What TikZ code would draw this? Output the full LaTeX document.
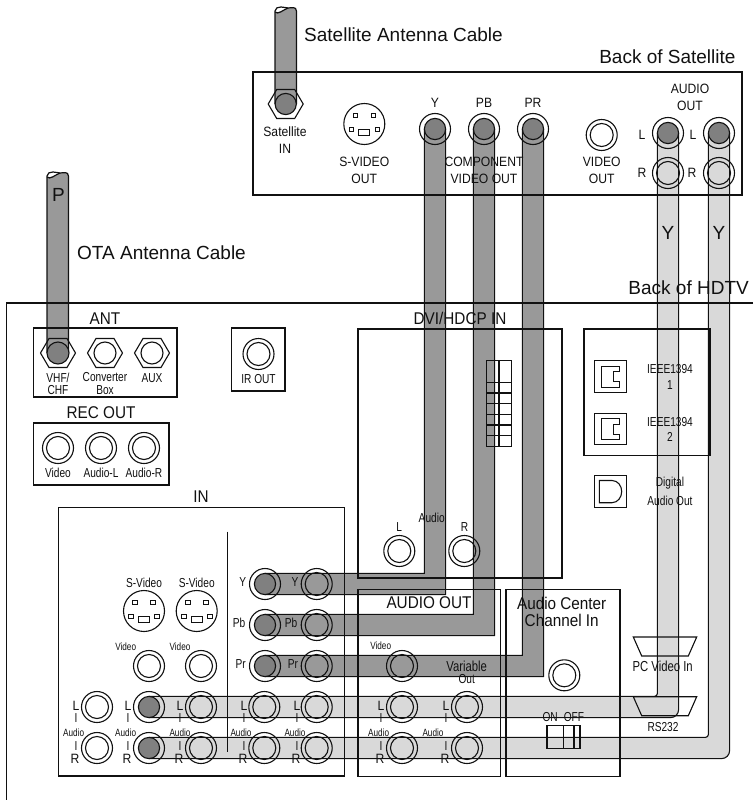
\documentclass[tikz,border=0pt]{standalone}
\usepackage{fontspec}
\setmainfont{Liberation Sans}
\newfontfamily\mdf[FakeStretch=0.9]{Liberation Sans}
\newfontfamily\nrw[FakeStretch=0.78]{Liberation Sans}
\usetikzlibrary{calc}
\newcount\lblcount
\newcommand\lbl[3]{\global\advance\lblcount by 1 \node[#1] (t\the\lblcount) at (#2) {#3};}
\definecolor{darkc}{HTML}{999999}
\definecolor{lightc}{HTML}{D9D9D9}
\definecolor{discc}{HTML}{808080}
\definecolor{inkc}{HTML}{111111}
\tikzset{
  ln/.style={draw=inkc,line width=1.1pt},
  big/.style={inner sep=0pt,text=inkc,font=\fontsize{19}{19}\selectfont},
  mid/.style={inner sep=0pt,text=inkc,font=\mdf\fontsize{17}{17}\selectfont},
  sm/.style={inner sep=0pt,text=inkc,font=\mdf\fontsize{13.5}{13.5}\selectfont},
  smn/.style={inner sep=0pt,text=inkc,font=\nrw\fontsize{13}{13}\selectfont},
  smw/.style={inner sep=0pt,text=inkc,font=\nrw\fontsize{14.5}{14.5}\selectfont},
  tiny/.style={inner sep=0pt,text=inkc,font=\nrw\fontsize{10.5}{10.5}\selectfont},
}
% ring jack: named centre
\newcommand\jack[2]{\coordinate (#1) at (#2);
  \draw[ln] (#1) circle[radius=15.5pt]; \draw[ln] (#1) circle[radius=11.5pt];}
\newcommand\disc[1]{\draw[ln,fill=discc] (#1) circle[radius=10.6pt];
  \draw[ln] (#1) circle[radius=15.5pt];}
% hex connector
\newcommand\hexj[2]{\coordinate (#1) at (#2);
  \draw[ln] ($(#1)+(-17.5,0)$) -- ($(#1)+(-9,-14.5)$) -- ($(#1)+(9,-14.5)$) -- ($(#1)+(17.5,0)$) -- ($(#1)+(9,14.5)$) -- ($(#1)+(-9,14.5)$) -- cycle;}
% s-video connector
\newcommand\svid[2]{\coordinate (#1) at (#2);
  \draw[ln] (#1) circle[radius=20.5pt];
  \foreach \dx/\dy in {-9/-9,9/-9,-13/5,13/5}
    \draw[ln,line width=.8pt] ($(#1)+(\dx-2.3,\dy-1.9)$) rectangle ($(#1)+(\dx+2.3,\dy+1.9)$);
  \draw[ln,line width=.8pt] ($(#1)+(-5.5,5.8)$) rectangle ($(#1)+(5.5,11)$);}
% cable: from top jack A down, then left to jack B
\newcommand\cable[5]{%
  \fill[#1] ([xshift=-10.6pt]#2) [rounded corners=#4] |- ([yshift=10.6pt]#3)
     [sharp corners] -- ([yshift=-10.6pt]#3) [rounded corners=#5] -| ([xshift=10.6pt]#2) [sharp corners] -- cycle;
  \draw[ln,rounded corners=#4] ([xshift=-10.6pt]#2) |- ([yshift=10.6pt]#3);
  \draw[ln,rounded corners=#5] ([xshift=10.6pt]#2) |- ([yshift=-10.6pt]#3);}
% straight cut cable with wavy top
\newcommand\riser[3]{% left x, top y, target
  \fill[darkc] (#1,#2+5) .. controls (#1+3,#2+8) and (#1+8,#2+3) .. (#1+13,#2+1) .. controls (#1+16,#2+1) and (#1+21.4,#2-1) .. (#1+21.4,#2+4)
     -- (#1+21.4,#3) -- (#1,#3) -- cycle;
  \draw[ln,line width=1.2pt] (#1,#3) -- (#1,#2+4) .. controls (#1,#2+1) and (#1+3,#2) .. (#1+6,#2) .. controls (#1+9,#2) and (#1+11,#2+1) .. (#1+13,#2+1) .. controls (#1+16,#2+1) and (#1+21.4,#2-1) .. (#1+21.4,#2+4) -- (#1+21.4,#3);
  \draw[ln,line width=1.2pt] (#1,#2+5) .. controls (#1+3,#2+8) and (#1+8,#2+3) .. (#1+13,#2+1);}
\begin{document}
\begin{tikzpicture}[x=1pt,y=-1pt]
\useasboundingbox (0,0) rectangle (753,800);
\fill[white] (0,0) rectangle (753,800);

% jack anchors used by cables
\coordinate (satY) at (435,129);
\coordinate (satPb) at (484,129);
\coordinate (satPr) at (533,129);
\coordinate (satL) at (668,133);
\coordinate (satR) at (719,133);
\coordinate (tvY) at (265,584);
\coordinate (tvPb) at (265,625);
\coordinate (tvPr) at (265,666);
\coordinate (tvL) at (149,707);
\coordinate (tvR) at (149,748);

% cables
\riser{275}{7}{104}
\riser{47}{172}{353}
\cable{darkc}{satY}{tvY}{0.01pt}{0.01pt}
\cable{darkc}{satPb}{tvPb}{0.01pt}{0.01pt}
\cable{darkc}{satPr}{tvPr}{0.01pt}{0.01pt}
\cable{lightc}{satL}{tvL}{3pt}{8pt}
\cable{lightc}{satR}{tvR}{3pt}{8pt}

% panels
\draw[ln] (253,72) rectangle (742,195);
\draw[ln] (753,303) -- (6.7,303) -- (6.7,800);
\draw[ln] (33.5,328) rectangle (177,397);
\draw[ln] (231.7,328) rectangle (285,391);
\draw[ln] (33.5,423) rectangle (169,485);
\draw[ln] (58.3,507.7) rectangle (344.3,776);
\draw[ln] (227.7,531.7) -- (227.7,752);
\draw[ln] (358,329) rectangle (562,578);
\draw[ln] (584,329) rectangle (710,455.7);
\draw[ln] (358,589.3) rectangle (500.3,776.7);
\draw[ln] (506,589.3) rectangle (620,776.7);

% DVI connector
\draw[ln] (486.3,360.3) rectangle (511.7,446.3);
\draw[ln] (499,360.3) -- (499,446.3);
\foreach \yy in {382.3,393,403.7,414.3,425,435.7}
  \draw[ln] (486.3,\yy) -- (511.7,\yy);

% IEEE and digital ports
\foreach \yy in {360.7,413.3}{
  \draw[ln] (594.3,\yy) rectangle (626.3,\yy+31.5);
  \draw[ln] (601.7,\yy+5.6) -- (619.3,\yy+5.6) -- (619.3,\yy+11) -- (613.3,\yy+11) -- (613.3,\yy+21) -- (619.3,\yy+21) -- (619.3,\yy+26.6) -- (601.7,\yy+26.6) -- cycle;
}
\draw[ln] (594.3,475.7) rectangle (626.3,507.7);
\draw[ln] (599.3,480.5) -- (612,480.5) .. controls (618,480.5) and (621.7,486) .. (621.7,491.5) .. controls (621.7,497) and (618,502.7) .. (612,502.7) -- (599.3,502.7) -- cycle;

% switch
\draw[ln] (547,725.7) rectangle (580,748.3);
\draw[ln] (563.3,725.7) -- (563.3,748.3);
\draw[ln] (574,725.7) -- (574,748.3);

% trapezoids
\draw[ln] (633.3,637) -- (696.7,637) -- (688.3,656) -- (641.7,656) -- cycle;
\draw[ln] (633.3,696.7) -- (696.7,696.7) -- (688.3,715.7) -- (641.7,715.7) -- cycle;

% satellite connectors
\hexj{hexSat}{285.7,104}
\svid{svSat}{364.3,124}
\jack{vidSat}{601.7,135}
\disc{satY}\disc{satPb}\disc{satPr}\disc{satL}\disc{satR}
\draw[ln,fill=discc] (hexSat) circle[radius=10.6pt];
\jack{satRa}{668,173}
\jack{satRb}{719,173}

% HDTV connectors
\hexj{hexA}{58,353}\hexj{hexB}{105,353}\hexj{hexC}{152,353}
\draw[ln,fill=discc] (hexA) circle[radius=11pt];
\draw[ln] (hexB) circle[radius=11pt];
\draw[ln] (hexC) circle[radius=11pt];
\jack{ir}{258.5,354}
\jack{recV}{58,448}\jack{recL}{101,448}\jack{recR}{144,448}
\jack{dviL}{399.3,551}\jack{dviR}{464.3,551}
\svid{svA}{144,611}\svid{svB}{196.7,611}
\jack{inVa}{149,666}\jack{inVb}{201,666}
\disc{tvY}\disc{tvPb}\disc{tvPr}\disc{tvL}\disc{tvR}
\jack{oY}{316.7,584}\jack{oPb}{316.7,625}\jack{oPr}{316.7,666}
\foreach \xx [count=\i] in {97,201,264.3,316.7,402,467}{
  \jack{rowL\i}{\xx,707}
  \jack{rowR\i}{\xx,748}
}
\jack{varV}{402,666}
\jack{center}{564.3,675.3}

% large texts
\lbl{big,anchor=west}{304,34.7}{Satellite Antenna Cable}
\lbl{big,anchor=east}{735.7,56.7}{Back of Satellite}
\lbl{big,anchor=west}{77,252.7}{OTA Antenna Cable}
\lbl{big,anchor=east}{749,288}{Back of HDTV}
\lbl{big}{58.5,195}{P}
\lbl{big}{668,233}{Y}
\lbl{big}{719,233}{Y}
\lbl{mid}{105,319}{ANT}
\lbl{mid}{101,413}{REC OUT}
\lbl{mid}{201,497}{IN}
\lbl{mid}{460,318}{DVI/HDCP IN}
\lbl{mid}{429,602.7}{AUDIO OUT}
\lbl{mid}{561.7,603.3}{Audio Center}
\lbl{mid}{561.7,620}{Channel In}

% satellite panel texts
\lbl{sm}{285,132}{Satellite}
\lbl{sm}{285,149}{IN}
\lbl{sm}{364.3,161.7}{S-VIDEO}
\lbl{sm}{364.3,179}{OUT}
\lbl{sm}{484,162}{COMPONENT}
\lbl{sm}{484,179}{VIDEO OUT}
\lbl{sm}{601.7,162}{VIDEO}
\lbl{sm}{601.7,179}{OUT}
\lbl{sm}{435,103}{Y}
\lbl{sm}{484,103}{PB}
\lbl{sm}{533,103}{PR}
\lbl{sm}{690,89}{AUDIO}
\lbl{sm}{690,106}{OUT}
\lbl{sm}{642,135}{L}
\lbl{sm}{693,135}{L}
\lbl{sm}{642,173}{R}
\lbl{sm}{692,173}{R}

% HDTV small texts
\lbl{smn}{58,378}{VHF/}
\lbl{smn}{58,390.5}{CHF}
\lbl{smn}{105,377}{Converter}
\lbl{smn}{105,390}{Box}
\lbl{smn}{152,378}{AUX}
\lbl{smn}{258.5,379}{IR OUT}
\lbl{smn}{58,473}{Video}
\lbl{smn}{101,473}{Audio-L}
\lbl{smn}{144,473}{Audio-R}
\lbl{smn}{144,583}{S-Video}
\lbl{smn}{196.7,583}{S-Video}
\lbl{smn}{242.7,582}{Y}
\lbl{smn}{239,623}{Pb}
\lbl{smn}{240.7,664}{Pr}
\lbl{smn}{295,582}{Y}
\lbl{smn}{291,623}{Pb}
\lbl{smn}{293,664}{Pr}
\lbl{tiny}{125.7,647}{Video}
\lbl{tiny}{180,647}{Video}
\lbl{tiny}{380.7,645.7}{Video}
\lbl{smn}{431.7,517.7}{Audio}
\lbl{smn}{399.3,527}{L}
\lbl{smn}{464.5,527}{R}
\lbl{smn}{670,368.7}{IEEE1394}
\lbl{smn}{670,385.5}{1}
\lbl{smn}{670,421.7}{IEEE1394}
\lbl{smn}{670,437}{2}
\lbl{smn}{670,483}{Digital}
\lbl{smn}{670,500.7}{Audio Out}
\lbl{smw}{466.7,666.7}{Variable}
\lbl{smn}{466.7,679.5}{Out}
\lbl{smn}{563.3,716.7}{ON\hspace{6pt}OFF}
\lbl{smw}{662.7,666.7}{PC Video In}
\lbl{smn}{663,726.7}{RS232}
\foreach \lx/\ax in {76/73.7,128/125.7,180/180,244/241,297/295,381/378.7,446/433}{
  \lbl{sm}{\lx,705.7}{L}
  \lbl{smn}{\lx,718}{I}
  \lbl{tiny}{\ax,732.7}{Audio}
  \lbl{smn}{\lx,746}{I}
  \lbl{sm}{\lx-1,759}{R}
}
\end{tikzpicture}
\end{document}
